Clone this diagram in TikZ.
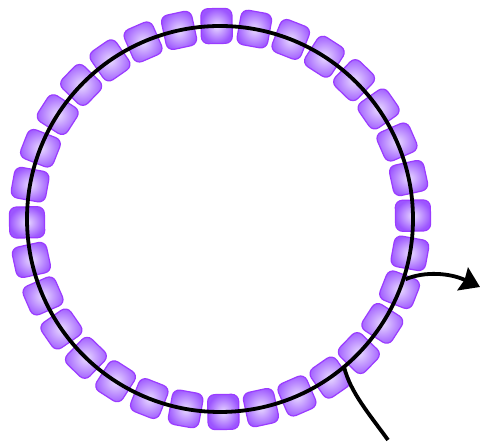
\documentclass[tikz,border=0pt]{standalone}
\usepackage{tikz}
\usetikzlibrary{calc,arrows.meta}
\definecolor{beadin}{HTML}{E8DAFF}
\definecolor{beadout}{HTML}{9C55FF}
\definecolor{beadedge}{HTML}{9A3CFF}
\tikzstyle{bead} = [rectangle, rounded corners=7pt, minimum width=35pt, minimum height=31pt, inner sep=0pt, draw=beadedge, line width=1.2pt, inner color=beadin, outer color=beadout]
\tikzstyle{thread} = [line width=3.8pt, black]
\tikzstyle{arrow} = [thread, -{Stealth[length=19pt,width=25pt,inset=2pt]}]
\begin{document}
\begin{tikzpicture}[x=1pt,y=1pt]
  \useasboundingbox (0,0) rectangle (480,443);
  \coordinate (c) at (220,224);
  \foreach \i in {0,...,31}{
    \node (bead\i)[bead, rotate=\i*11.25+1] at ($(c)+(\i*11.25+1:193)$){};
  }
  \draw [thread] (c) circle (193);
  \coordinate (in) at ($(c)+(-50:193)$);
  \coordinate (tail) at (388,3);
  \coordinate (out) at ($(c)+(-18:195)$);
  \coordinate (tip) at (480,156);
  \draw [thread] (in) .. controls (350,51) and (370,28) .. (tail);
  \draw [arrow] (out) .. controls (425,172) and (450,170) .. (tip);
\end{tikzpicture}
\end{document}
